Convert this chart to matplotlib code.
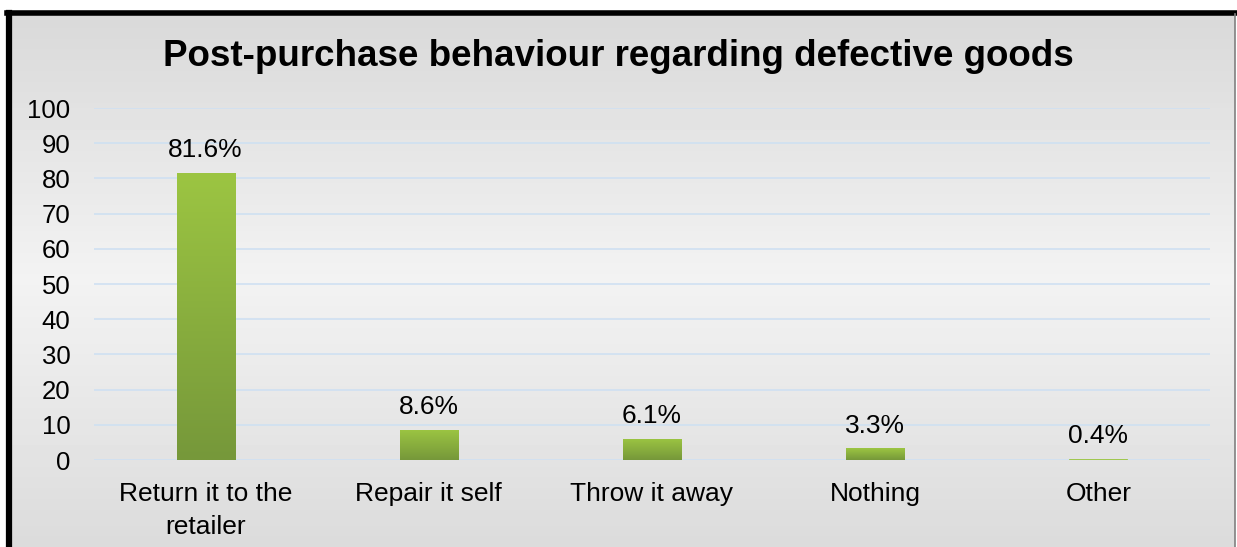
import numpy as np
import matplotlib.pyplot as plt
from matplotlib.lines import Line2D
from matplotlib.colors import LinearSegmentedColormap

categories = ["Return it to the\nretailer", "Repair it self", "Throw it away", "Nothing", "Other"]
values = [81.6, 8.6, 6.1, 3.3, 0.4]
labels = ["81.6%", "8.6%", "6.1%", "3.3%", "0.4%"]
yticks = list(range(0, 101, 10))


def main():
    plt.rcParams['font.family'] = ['Liberation Sans', 'DejaVu Sans']
    fig = plt.figure(figsize=(12.37, 5.47), dpi=100)
    fig.patch.set_facecolor("white")

    W, H = 1237, 547
    # panel background with a soft vertical gradient
    bg = fig.add_axes([8 / W, 0, (1235 - 8) / W, (H - 12) / H], zorder=-5)
    grad = np.concatenate([np.linspace(0.85, 0.95, 50), np.linspace(0.95, 0.86, 50)])
    bg.imshow(grad[:, None], aspect="auto", cmap="gray", vmin=0, vmax=1,
              extent=[0, 1, 0, 1], origin="upper")
    bg.set_axis_off()
    # frame: thick black top/left, thin grey right
    fig.lines.append(Line2D([9 / W, 9 / W], [0, 1 - 12.5 / H], transform=fig.transFigure,
                            color="black", linewidth=4.5))
    fig.lines.append(Line2D([7 / W, 1236 / W], [1 - 12.5 / H, 1 - 12.5 / H],
                            transform=fig.transFigure, color="black", linewidth=4))
    fig.lines.append(Line2D([1235 / W, 1235 / W], [0, 1 - 14 / H], transform=fig.transFigure,
                            color="#808080", linewidth=1.2))

    ax = fig.add_axes([94 / W, 1 - 460 / H, (1210 - 94) / W, 352 / H])
    ax.patch.set_alpha(0)
    x = np.arange(len(categories))
    bars = ax.bar(x, values, width=0.26, color="#9cc542", edgecolor="#9cc542",
                  linewidth=0.6, zorder=3)

    cmap = LinearSegmentedColormap.from_list("g", ["#9cc542", "#76983a"])
    for b in bars:
        if b.get_height() < 2:
            continue
        bx, by = b.get_x(), b.get_y()
        w, h = b.get_width(), b.get_height()
        img = ax.imshow(np.linspace(0, 1, 100)[:, None], cmap=cmap, aspect="auto",
                        extent=[bx, bx + w, by, by + h], origin="upper", zorder=4)
        img.set_clip_path(b)

    for xi, v, lab in zip(x, values, labels):
        ax.text(xi, v + 3, lab, ha="center", va="bottom", fontsize=19)

    ax.set_xlim(-0.5, len(categories) - 0.5)
    ax.set_ylim(0, 100)
    ax.set_yticks(yticks)
    ax.set_yticklabels([str(t) for t in yticks], fontsize=18.5)
    ax.set_xticks(x)
    ax.set_xticklabels(categories, fontsize=19, linespacing=1.45)
    ax.tick_params(axis="y", length=0, pad=17)
    ax.tick_params(axis="x", length=0, pad=16)
    ax.grid(axis="y", color="#cfe0f2", linewidth=1.2, zorder=0)
    for s in ax.spines.values():
        s.set_visible(False)

    fig.text(0.5, 1 - 56 / H, "Post-purchase behaviour regarding defective goods",
             ha="center", va="center", fontsize=26.5, fontweight="bold")

    fig.savefig("out.png", dpi=100)


if __name__ == "__main__":
    main()
